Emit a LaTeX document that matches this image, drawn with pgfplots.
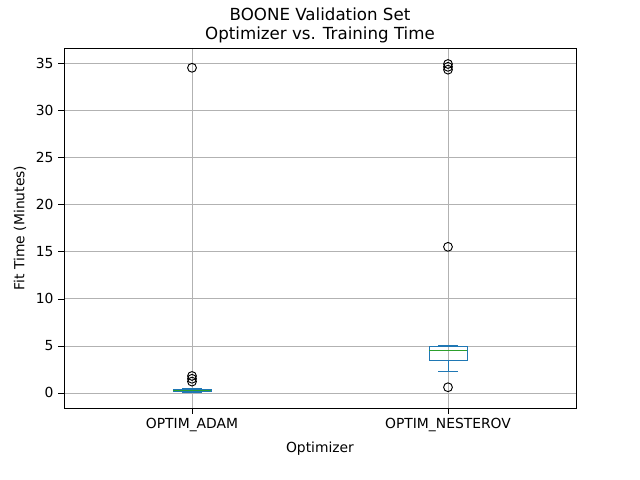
\documentclass[border=0pt]{standalone}
\usepackage{pgfplots}
\pgfplotsset{compat=1.18}
\usepgfplotslibrary{statistics}
\usepackage{fontspec}
\setmainfont{DejaVu Sans}
\definecolor{mblue}{HTML}{1F77B4}
\definecolor{mgreen}{HTML}{2CA02C}
\begin{document}
\begin{tikzpicture}
\fontsize{10.4}{12.5}\selectfont
\begin{axis}[name=ax,
  scale only axis, width=384pt, height=270pt,
  xmin=0.5, xmax=2.5, ymin=-1.6, ymax=36.6,
  xtick={1,2}, xticklabels={OPTIM\_ADAM,OPTIM\_NESTEROV},
  ytick={0,5,...,35},
  /pgf/number format/assume math mode=true,
  ticklabel style={font=\fontsize{10.4}{12}\selectfont},
  label style={font=\fontsize{10.4}{12}\selectfont},
  title style={font=\fontsize{12.5}{14.5}\selectfont, align=center, yshift=-6pt},
  title={BOONE Validation Set\\Optimizer vs. Training Time},
  xlabel={Optimizer}, ylabel={Fit Time (Minutes)},
  grid=major, grid style={gray!60},
  tick align=outside, tick style={black},
  xtick pos=bottom, ytick pos=left,
  boxplot/draw direction=y,
  boxplot/box extend=0.15,
  boxplot/whisker extend=0.075,
  boxplot/every median/.style={mgreen, line width=0.8pt},
]
\addplot+[mblue, solid, mark=o, mark options={black, solid, mark size=3.3pt, line width=0.7pt},
  boxplot prepared={draw position=1, lower whisker=0.05, lower quartile=0.18, median=0.3, upper quartile=0.38, upper whisker=0.5}]
  coordinates {(0,1.2) (0,1.5) (0,1.8) (0,34.5)};
\addplot+[mblue, solid, mark=o, mark options={black, solid, mark size=3.3pt, line width=0.7pt},
  boxplot prepared={draw position=2, lower whisker=2.3, lower quartile=3.5, median=4.5, upper quartile=5.0, upper whisker=5.1}]
  coordinates {(0,0.6) (0,15.5) (0,34.3) (0,34.6) (0,34.9)};
\end{axis}
\pgfresetboundingbox
\path ([xshift=-48pt,yshift=-54pt]ax.south west) rectangle ([xshift=48pt,yshift=36pt]ax.north east);
\end{tikzpicture}
\end{document}
